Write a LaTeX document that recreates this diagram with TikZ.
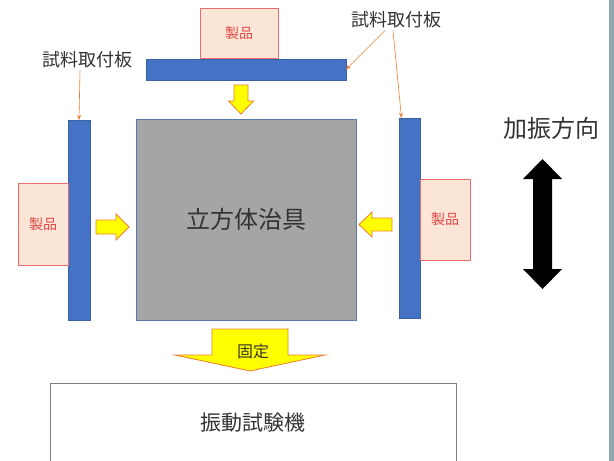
\documentclass[tikz,border=0pt]{standalone}
\usepackage{fontspec}
\setmainfont{Noto Sans CJK JP}
\usetikzlibrary{arrows.meta}
\definecolor{plateblue}{HTML}{4472C4}
\definecolor{prodfill}{HTML}{FBE5D6}
\definecolor{prodline}{HTML}{E86D6D}
\definecolor{prodtext}{HTML}{E04848}
\definecolor{cubefill}{HTML}{A5A5A5}
\definecolor{cubeline}{HTML}{5A7BAA}
\definecolor{arrfill}{HTML}{FFFF00}
\definecolor{arrline}{HTML}{ED7D31}
\definecolor{boxline}{HTML}{7F7F7F}
\definecolor{band}{HTML}{8FAAAE}
\definecolor{txt}{HTML}{333333}
\tikzset{
  plate/.style={fill=plateblue, draw=plateblue!85!black, line width=0.4pt, inner sep=0pt, outer sep=0pt},
  product/.style={fill=prodfill, draw=prodline, line width=0.8pt, text=prodtext, font=\fontsize{14}{14}\selectfont, inner sep=0pt, outer sep=0pt},
  yarrow/.style={fill=arrfill, draw=arrline, line width=0.8pt, line join=miter},
  leader/.style={draw=arrline, line width=0.6pt, -{Stealth[length=5pt,width=4pt]}},
  lbl/.style={text=txt, inner sep=0pt},
}
\begin{document}
\begin{tikzpicture}[x=1pt,y=-1pt]
\useasboundingbox (0,0) rectangle (614,461);
\fill[white] (0,0) rectangle (614,461);
\fill[band] (609,0) rectangle (614,461);

% cube
\node[fill=cubefill, draw=cubeline, line width=0.5pt, minimum width=220pt, minimum height=201pt, inner sep=0pt, outer sep=0pt,
  text=txt, font=\fontsize{24}{24}\selectfont] (cube) at (246,219.5) {立方体治具};

% plates
\node[plate, minimum width=200pt, minimum height=21pt] (topplate) at (246,69.5) {};
\node[plate, minimum width=22pt, minimum height=200pt] (lplate) at (79,220) {};
\node[plate, minimum width=21pt, minimum height=200pt] (rplate) at (409.5,218) {};

% products
\node[product, minimum width=78pt, minimum height=50pt] (tprod) at (239,33) {製品};
\node[product, minimum width=50pt, minimum height=82pt] (lprod) at (43,224) {製品};
\node[product, minimum width=50pt, minimum height=81pt] (rprod) at (445,219.5) {製品};

% labels
\node[lbl, font=\fontsize{18}{18}\selectfont] (lbltr) at (396,20) {試料取付板};
\node[lbl, font=\fontsize{18}{18}\selectfont] (lbll) at (87,60) {試料取付板};
\node[lbl, font=\fontsize{24}{24}\selectfont] (dirlbl) at (551,128) {加振方向};

% leaders
\draw[leader] ([xshift=-11pt,yshift=-2pt]lbltr.south) -- (topplate.east);
\draw[leader] ([xshift=-3pt,yshift=-2pt]lbltr.south) -- ([xshift=-8pt]rplate.north);
\draw[leader] ([xshift=-7pt,yshift=-2pt]lbll.south) -- (lplate.north);

% yellow small arrows
\draw[yarrow] (234,85) -- (248,85) -- (248,101) -- (253.5,101) -- (241,114) -- (228.5,101) -- (234,101) -- cycle;
\draw[yarrow] (96,220) -- (116,220) -- (116,214) -- (129,227) -- (116,240) -- (116,234) -- (96,234) -- cycle;
\draw[yarrow] (392,218) -- (372,218) -- (372,212) -- (359,224.5) -- (372,237) -- (372,231) -- (392,231) -- cycle;

% double arrow
\fill[black] (542.5,159) -- (562,179) -- (552,179) -- (552,269) -- (562,269) -- (542.5,289) -- (523,269) -- (533,269) -- (533,179) -- (523,179) -- cycle;

% machine
\node[draw=boxline, line width=0.8pt, fill=white, minimum width=406pt, minimum height=80pt, inner sep=0pt,
  text=txt, font=\fontsize{21}{21}\selectfont] (machine) at (253,423) {振動試験機};

% fix arrow
\draw[yarrow] (212,329) -- (288,329) -- (288,355) -- (325,355) -- (250,371) -- (175,355) -- (212,355) -- cycle;
\node[lbl, font=\fontsize{16}{16}\selectfont] (fix) at (253,351) {固定};
\end{tikzpicture}
\end{document}
